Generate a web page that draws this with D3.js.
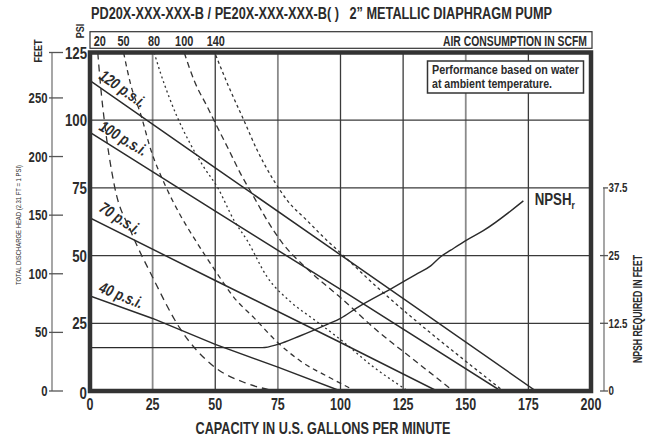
<!DOCTYPE html>
<html>
<head>
<meta charset="utf-8">
<script src="https://cdn.jsdelivr.net/npm/d3@7"></script>
<style>
    body { margin: 0; background: #fff; }
    svg { display: block; }
    .cond { font-family: "Liberation Sans", Arial, sans-serif; font-weight: bold; fill: #2b2b2b; }
</style>
</head>
<body>
<div id="pump-chart"></div>
<script>
    // -------------------------------------
    // Data
    // -------------------------------------

    var capacityTicks = [0, 25, 50, 75, 100, 125, 150, 175, 200]
    var psiTicks = [0, 25, 50, 75, 100, 125]
    var feetTicks = [0, 50, 100, 150, 200, 250]
    var npshTicks = [0, 12.5, 25, 37.5]

    // discharge pressure lines, [gpm, psi]
    var psiNames = ['120 p.s.i.', '100 p.s.i.', '70 p.s.i.', '40 p.s.i.']
    var psi120 = [[0, 114.6], [50, 82.4], [100, 50.3], [178, 0]]
    var psi100 = [[0, 95.5], [50, 66.4], [100, 37.5], [164, 0]]
    var psi70 = [[0, 63.9], [50, 40.8], [100, 17.9], [138.5, 0]]
    var psi40 = [[0, 35.1], [25, 26.8], [50, 17.2], [75, 8.8], [100, 0]]

    // air consumption curves, [gpm, psi]
    var airNames = ['20', '50', '80', '100', '140']
    var air20 = [[3.1, 125], [4.4, 111], [5.7, 100], [9.7, 76], [16.3, 59], [25, 42], [36, 23], [49.5, 9], [62, 3], [74, 0]]
    var air50 = [[13.4, 125], [16.3, 113], [20.3, 102], [24.3, 89], [30, 76], [36, 65], [42.2, 55.5], [50.9, 43.2], [57.5, 34.5], [65.5, 27], [74.8, 18], [84.1, 11], [96, 4.8], [106, 0]]
    var air80 = [[25.6, 125], [28.3, 117], [31.6, 108.5], [34.9, 101], [40.2, 91], [45.5, 82.6], [50.9, 75.2], [57.5, 63], [62.8, 55.5], [70.8, 42], [80, 33], [90, 26], [100, 19], [113, 9], [127, 0]]
    var air100 = [[37.6, 125], [41.6, 114.6], [46.9, 104.8], [50.2, 98.6], [54.9, 90], [60.2, 80.1], [65.5, 71.5], [70.8, 62.9], [76.1, 55.5], [88, 44], [100, 34.5], [115, 22], [130, 11], [145, 0]]
    var air140 = [[50.2, 124], [54.9, 113.4], [61.5, 99.8], [66.8, 88.8], [73.4, 77.7], [78.8, 70.3], [86.7, 62.9], [94.7, 55.5], [100, 51], [115, 38], [130, 26], [150, 11], [165, 0]]

    // NPSH required, [gpm, feet]
    var npsh = [[0, 8], [68.8, 8], [75, 8.6], [84, 10.2], [94.7, 12.3], [100, 13.4], [106.7, 15.4], [121, 19.1], [130, 21.5], [136, 23.1], [140, 24.8], [144, 26], [150.5, 27.9], [157, 29.6], [173, 35.1]]

    var noteLines = ['Performance based on water', 'at ambient temperature.'];

    (function () {
        "use strict"

        var W = 649, H = 441
        var SX = 0.78 // squeeze for a condensed look

        var svg = d3.select('#pump-chart').append('svg')
            .attr('width', W)
            .attr('height', H)

        var x = d3.scaleLinear().domain([0, 200]).range([90, 591])
        var y = d3.scaleLinear().domain([0, 125]).range([391, 52.5])
        var yFeet = d3.scaleLinear().domain([0, 125 * 2.31]).range([391, 52.5])
        var yNpsh = d3.scaleLinear().domain([0, 62.5]).range([391, 52.5])

        var pTop = y(125), pBottom = y(0), pLeft = x(0), pRight = x(200)

        // condensed text helper
        function label(g, str, px, py, size, anchor, extra) {
            return g.append('text')
                .attr('class', 'cond')
                .attr('font-size', size)
                .attr('text-anchor', anchor || 'start')
                .attr('transform', `translate(${px},${py}) ${extra || ''} scale(${SX},1)`)
                .text(str)
        }

        svg.append('clipPath').attr('id', 'plot-clip')
            .append('rect')
            .attr('x', pLeft).attr('y', pTop)
            .attr('width', pRight - pLeft).attr('height', pBottom - pTop)

        // gridlines
        var gridGrey = { 25: '#8a8a8a', 75: '#8a8a8a', 150: '#8a8a8a' }
        svg.append('g').selectAll('line')
            .data(capacityTicks.filter(d => d > 0 && d < 200))
            .enter().append('line')
            .attr('x1', d => x(d)).attr('x2', d => x(d))
            .attr('y1', pTop).attr('y2', pBottom)
            .attr('stroke', d => gridGrey[d] || '#3a3a3a')
            .attr('stroke-width', d => gridGrey[d] ? 1.8 : 1.3)

        svg.append('g').selectAll('line')
            .data(psiTicks.filter(d => d > 0 && d < 125))
            .enter().append('line')
            .attr('x1', pLeft).attr('x2', pRight)
            .attr('y1', d => y(d)).attr('y2', d => y(d))
            .attr('stroke', '#3a3a3a')
            .attr('stroke-width', 1.3)

        var plot = svg.append('g').attr('clip-path', 'url(#plot-clip)')
        var line = d3.line().x(d => x(d[0])).y(d => y(d[1]))
        var smooth = d3.line().x(d => x(d[0])).y(d => y(d[1])).curve(d3.curveMonotoneX)

        // air consumption curves
        var airCurves = [air20, air50, air80, air100, air140]
        var airDash = ['7,5', '5,4', '2,3', '6,4', '3,3']
        airCurves.forEach(function (c, i) {
            plot.append('path')
                .datum(c)
                .attr('fill', 'none')
                .attr('stroke', '#333')
                .attr('stroke-width', 1.3)
                .attr('stroke-dasharray', airDash[i])
                .attr('d', smooth)
        })

        // pressure lines
        var psiLines = [psi120, psi100, psi70, psi40]
        psiLines.forEach(function (c) {
            plot.append('path')
                .datum(c)
                .attr('fill', 'none')
                .attr('stroke', '#2b2b2b')
                .attr('stroke-width', 1.5)
                .attr('d', line)
        })

        // NPSH curve
        plot.append('path')
            .datum(npsh)
            .attr('fill', 'none')
            .attr('stroke', '#2b2b2b')
            .attr('stroke-width', 1.4)
            .attr('d', d3.line().x(d => x(d[0])).y(d => yNpsh(d[1])).curve(d3.curveMonotoneX))

        // pressure labels along the lines
        var labelRot = [35, 31, 33, 22]
        var labelLift = [6, 6, 10, 6]
        psiLines.forEach(function (c, i) {
            var px = x(2) + 3
            var py = y(c[0][1] + (c[1][1] - c[0][1]) * 2 / c[1][0]) - labelLift[i]
            label(svg, psiNames[i], px, py, 16, 'start', `rotate(${labelRot[i]})`)
                .attr('font-style', 'italic')
        })

        // frame
        svg.append('rect')
            .attr('x', pLeft).attr('y', pTop)
            .attr('width', pRight - pLeft).attr('height', pBottom - pTop)
            .attr('fill', 'none')
            .attr('stroke', '#333')
            .attr('stroke-width', 4.5)

        // note box
        svg.append('rect')
            .attr('x', 427.5).attr('y', 61)
            .attr('width', 156).attr('height', 32)
            .attr('fill', '#fff')
            .attr('stroke', '#333')
            .attr('stroke-width', 1.5)
        svg.append('text').attr('class', 'cond').attr('font-size', 13)
            .attr('x', 432).attr('y', 74)
            .attr('textLength', 147).attr('lengthAdjust', 'spacingAndGlyphs')
            .text(noteLines[0])
        svg.append('text').attr('class', 'cond').attr('font-size', 13)
            .attr('x', 432).attr('y', 88)
            .attr('textLength', 120).attr('lengthAdjust', 'spacingAndGlyphs')
            .text(noteLines[1])

        // NPSH label
        var npshLabel = label(svg, '', x(177.5), yNpsh(34.4), 17)
        npshLabel.append('tspan').text('NPSH')
        npshLabel.append('tspan').attr('font-size', 11).attr('dy', 4).text('r')

        // air consumption box
        svg.append('rect')
            .attr('x', pLeft).attr('y', 31.7)
            .attr('width', pRight - pLeft + 1).attr('height', 16.6)
            .attr('fill', 'none')
            .attr('stroke', '#333')
            .attr('stroke-width', 1.2)
        airCurves.forEach(function (c, i) {
            label(svg, airNames[i], x(c[0][0]) + (i == 0 ? 2 : 0), 45.5, 14, 'middle')
        })
        svg.append('text').attr('class', 'cond').attr('font-size', 14)
            .attr('text-anchor', 'end')
            .attr('x', 587).attr('y', 45.5)
            .attr('textLength', 144).attr('lengthAdjust', 'spacingAndGlyphs')
            .text('AIR CONSUMPTION IN SCFM')

        // title
        svg.append('text').attr('class', 'cond').attr('font-size', 16)
            .attr('x', 91).attr('y', 19)
            .attr('textLength', 461).attr('lengthAdjust', 'spacingAndGlyphs')
            .style('white-space', 'pre')
            .text('PD20X-XXX-XXX-B / PE20X-XXX-XXX-B( )   2\u201D METALLIC DIAPHRAGM PUMP')

        // x axis labels
        capacityTicks.forEach(function (d) {
            label(svg, d, x(d), 410, 16, 'middle')
        })
        svg.append('text').attr('class', 'cond').attr('font-size', 17)
            .attr('text-anchor', 'middle')
            .attr('x', 323).attr('y', 433.5)
            .attr('textLength', 255).attr('lengthAdjust', 'spacingAndGlyphs')
            .text('CAPACITY IN U.S. GALLONS PER MINUTE')

        // psi labels
        psiTicks.forEach(function (d) {
            label(svg, d, 87, y(d) + 6 + (d == 0 ? 1.5 : 0), 17, 'end')
        })

        // feet axis
        var feet = svg.append('g')
        feet.append('line')
            .attr('x1', 52).attr('x2', 52)
            .attr('y1', yFeet(125 * 2.31)).attr('y2', yFeet(0))
            .attr('stroke', '#777').attr('stroke-width', 1.3)
        feet.selectAll('.tick')
            .data(feetTicks.concat([125 * 2.31]))
            .enter().append('line')
            .attr('x1', 49).attr('x2', 63)
            .attr('y1', d => yFeet(d)).attr('y2', d => yFeet(d))
            .attr('stroke', '#555').attr('stroke-width', 1.3)
        feetTicks.forEach(function (d) {
            label(feet, d, 47.5, yFeet(d) + 5, 14.5, 'end')
        })

        // npsh axis
        var np = svg.append('g')
        np.append('line')
            .attr('x1', 604).attr('x2', 604)
            .attr('y1', yNpsh(37.5)).attr('y2', yNpsh(0))
            .attr('stroke', '#777').attr('stroke-width', 1.3)
        np.selectAll('.tick')
            .data(npshTicks)
            .enter().append('line')
            .attr('x1', d => d == 37.5 ? 603 : 600).attr('x2', 608)
            .attr('y1', d => yNpsh(d)).attr('y2', d => yNpsh(d))
            .attr('stroke', '#555').attr('stroke-width', 1.3)
        npshTicks.forEach(function (d) {
            label(np, d, 608.5, yNpsh(d) + 4.3, 12.5, 'start')
        })

        // axis titles
        svg.append('text').attr('class', 'cond').attr('font-size', 12)
            .attr('text-anchor', 'middle')
            .attr('transform', 'translate(642,309) rotate(-90)')
            .attr('textLength', 108).attr('lengthAdjust', 'spacingAndGlyphs')
            .text('NPSH REQUIRED IN FEET')
        svg.append('text').attr('class', 'cond').attr('font-size', 7.5)
            .attr('text-anchor', 'middle')
            .style('font-weight', 'normal')
            .attr('transform', 'translate(21,225) rotate(-90)')
            .attr('textLength', 120).attr('lengthAdjust', 'spacingAndGlyphs')
            .text('TOTAL DISCHARGE HEAD (2.31 FT = 1 PSI)')
        label(svg, 'FEET', 41.5, 51, 11.5, 'middle', 'rotate(-90)')
        label(svg, 'PSI', 83.5, 31, 11.5, 'middle', 'rotate(-90)')
    })()
</script>
</body>
</html>
